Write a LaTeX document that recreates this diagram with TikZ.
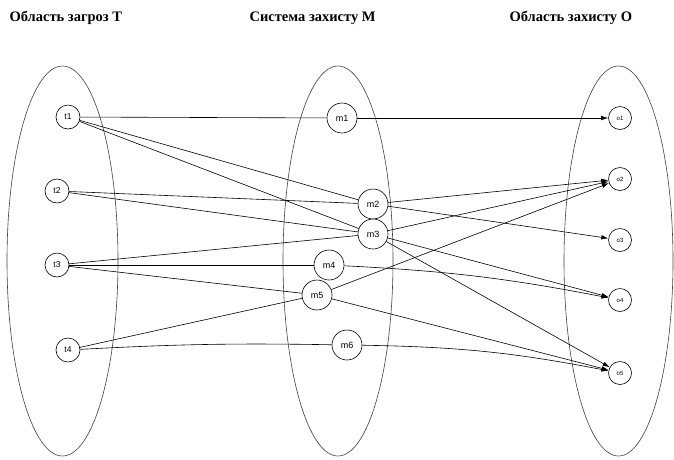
\documentclass[tikz,border=0pt]{standalone}
\usepackage{fontspec}
\setmainfont{Liberation Serif}
\newfontfamily\nodefont{Liberation Sans}
\usetikzlibrary{arrows.meta}
\begin{document}
\begin{tikzpicture}[x=1pt,y=-1pt,
  region/.style={draw=black!75,line width=0.6pt},
  tnode/.style={circle,draw,line width=0.6pt,minimum size=24pt,inner sep=0pt,font=\nodefont\fontsize{8.5}{8.5}\selectfont,fill=white},
  mnode/.style={circle,draw,line width=0.6pt,minimum size=30pt,inner sep=0pt,font=\nodefont\fontsize{9}{9}\selectfont,fill=white},
  onode/.style={circle,draw,line width=0.6pt,minimum size=23pt,inner sep=0pt,font=\nodefont\fontsize{6}{6}\selectfont,fill=white},
  link/.style={line width=0.6pt},
  arr/.style={line width=0.6pt,-{Latex[length=7pt,width=4.5pt]}},
  title/.style={anchor=west,font=\bfseries\fontsize{14.5}{14.5}\selectfont}]
\useasboundingbox (0,0) rectangle (674,459);
\begin{scope}
\clip (0,0) rectangle (674,459);
\draw[region] (62.5,261) ellipse [x radius=55.5, y radius=195];
\draw[region] (338,261) ellipse [x radius=55, y radius=195];
\draw[region] (618.5,261) ellipse [x radius=54.5, y radius=195];
\end{scope}
\node[title] (tt) at (6,18) {Область загроз T};
\node[title] (tm) at (246,18) {Система захисту M};
\node[title] (to) at (506,18) {Область захисту O};
\node[tnode] (t1) at (68,117) {t1};
\node[tnode] (t2) at (57,191) {t2};
\node[tnode] (t3) at (57,265) {t3};
\node[tnode] (t4) at (68,350) {t4};
\node[mnode] (m1) at (342,118) {m1};
\node[mnode] (m2) at (373,204) {m2};
\node[mnode] (m3) at (373,234) {m3};
\node[mnode] (m4) at (329,265) {m4};
\node[mnode] (m5) at (317,295) {m5};
\node[mnode] (m6) at (347,345) {m6};
\node[onode] (o1) at (620,118) {o1};
\node[onode] (o2) at (620,179) {o2};
\node[onode] (o3) at (620,240) {o3};
\node[onode] (o4) at (620,300) {o4};
\node[onode] (o5) at (620,373) {o5};
\draw[link] (t1) -- (m1);
\draw[link] (t1) -- (m2);
\draw[link] (t1) -- (m3);
\draw[link] (t2) -- (m2);
\draw[link] (t2) -- (m3);
\draw[link] (t3) -- (m3);
\draw[link] (t3) -- (m4);
\draw[link] (t3) -- (m5);
\draw[link] (t4) -- (m5);
\draw[link] (t4) to[bend left=2] (m6);
\draw[arr] (m1) -- (o1);
\draw[arr] (m2) -- (o2);
\draw[arr] (m2) -- (o3);
\draw[arr] (m3) -- (o2);
\draw[arr] (m5) -- (o2);
\draw[arr] (m3) -- (o4);
\draw[arr] (m3) -- (o5);
\draw[arr] (m4) to[bend left=4] (o4);
\draw[arr] (m5) -- (o5);
\draw[arr] (m6) to[bend left=5] (o5);
\end{tikzpicture}
\end{document}
